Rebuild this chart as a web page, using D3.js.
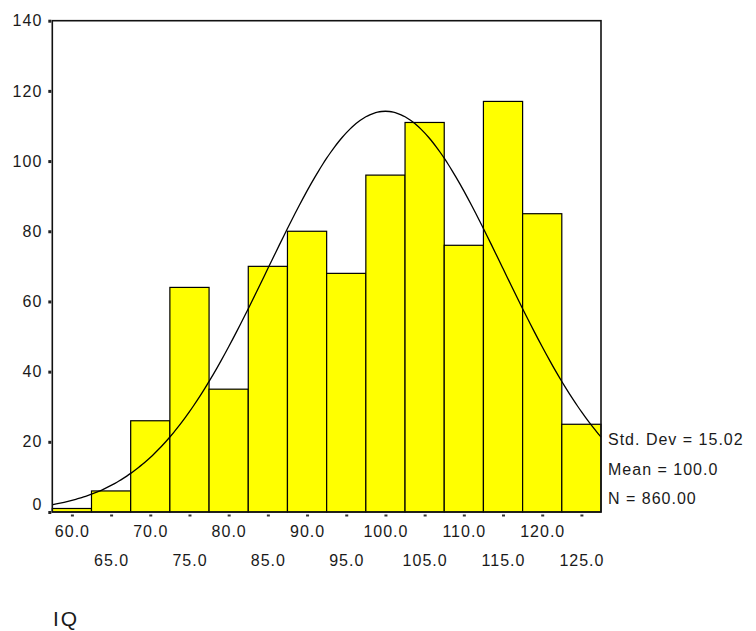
<!DOCTYPE html>
<html>
<head>
<meta charset="utf-8">
<script src="https://cdnjs.cloudflare.com/ajax/libs/d3/7.8.5/d3.min.js"></script>
<style>
  body { margin: 0; background: #fff; }
  svg { display: block; }
  text { font-family: "Liberation Sans", Arial, sans-serif; font-size: 16px; fill: #1a1a1a; letter-spacing: 1px; }
</style>
</head>
<body>
<div class="container"></div>
<script>
/* Histogram bins (bin centres) and their counts */
const binCenters = [60, 65, 70, 75, 80, 85, 90, 95, 100, 105, 110, 115, 120, 125];
const counts = [1, 6, 26, 64, 35, 70, 80, 68, 96, 111, 76, 117, 85, 25];
const binWidth = 5;

/* Axis ticks */
const yTicks = [0, 20, 40, 60, 80, 100, 120, 140];

/* Summary statistics printed at the right */
const statLabels = ["Std. Dev = 15.02", "Mean = 100.0", "N = 860.00"];
const stdDev = 15.02;
const mean = 100.0;
const n = 860;
const axisTitle = "IQ";

const w = 756;
const h = 631;
const plotLeft = 52.3, plotRight = 601, plotTop = 20.7, plotBottom = 512;

const xScale = d3.scaleLinear()
                 .domain([binCenters[0] - binWidth / 2, binCenters[binCenters.length - 1] + binWidth / 2])
                 .range([plotLeft, plotRight]);

const yScale = d3.scaleLinear()
                 .domain([0, 140])
                 .range([plotBottom, plotTop]);

const svg = d3.select(".container")
              .append("svg")
              .attr("width", w)
              .attr("height", h);

/* Bars */
svg.selectAll("rect.bar")
   .data(binCenters)
   .enter()
   .append("rect")
   .attr("class", "bar")
   .attr("x", (d) => xScale(d - binWidth / 2))
   .attr("width", (d) => xScale(d + binWidth / 2) - xScale(d - binWidth / 2))
   .attr("y", (d, i) => yScale(counts[i]))
   .attr("height", (d, i) => plotBottom - yScale(counts[i]))
   .attr("fill", "#ffff00")
   .attr("stroke", "#000")
   .attr("stroke-width", 1.2);

/* Normal curve fitted from the printed statistics */
const peak = n * binWidth / (stdDev * Math.sqrt(2 * Math.PI));
const curveX = d3.range(xScale.domain()[0], xScale.domain()[1] + 0.01, 0.5);
const line = d3.line()
               .x((d) => xScale(d))
               .y((d) => yScale(peak * Math.exp(-((d - mean) ** 2) / (2 * stdDev * stdDev))))
               .curve(d3.curveBasis);
svg.append("path")
   .datum(curveX)
   .attr("d", line)
   .attr("fill", "none")
   .attr("stroke", "#000")
   .attr("stroke-width", 1.3);

/* Frame */
svg.append("rect")
   .attr("x", plotLeft)
   .attr("y", plotTop)
   .attr("width", plotRight - plotLeft)
   .attr("height", plotBottom - plotTop)
   .attr("fill", "none")
   .attr("stroke", "#111")
   .attr("stroke-width", 1.6);

/* y axis */
const yAxis = d3.axisLeft(yScale).tickValues(yTicks).tickSize(4).tickPadding(6);
const gy = svg.append("g")
              .attr("transform", "translate(" + plotLeft + ",0)")
              .call(yAxis);
gy.select(".domain").remove();
gy.selectAll(".tick line").attr("stroke", "#222").attr("stroke-width", 3).attr("x1", -1);
gy.selectAll(".tick text")
  .attr("dy", (d) => d === 0 ? "-0.18em" : "0.32em");

/* x axis: labels alternate between two rows */
const xAxis = d3.axisBottom(xScale)
                .tickValues(binCenters)
                .tickFormat(d3.format(".1f"))
                .tickSize(5);
const gx = svg.append("g")
              .attr("transform", "translate(0," + plotBottom + ")")
              .call(xAxis);
gx.select(".domain").remove();
gx.selectAll(".tick line").attr("stroke", "#333").attr("stroke-width", 3).attr("y1", 2.5).attr("y2", 4.5);
gx.selectAll(".tick text")
  .attr("dy", null)
  .attr("y", (d, i) => i % 2 === 0 ? 25 : 53.5);

svg.selectAll("text, .tick text").style("font-family", "'Liberation Sans', Arial, sans-serif").style("font-size", "16px");

/* Statistics */
svg.selectAll("text.stat")
   .data(statLabels)
   .enter()
   .append("text")
   .attr("class", "stat")
   .attr("x", 608)
   .attr("y", (d, i) => 445 + i * 29.5)
   .text((d) => d);

/* Axis title */
svg.append("text")
   .attr("x", 53)
   .attr("y", 626)
   .style("font-size", "21px")
   .style("letter-spacing", "2px")
   .text(axisTitle);
</script>
</body>
</html>
